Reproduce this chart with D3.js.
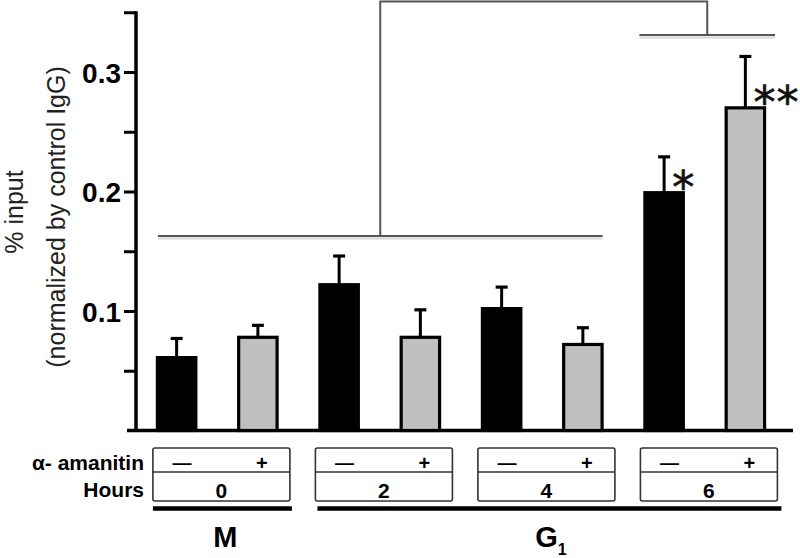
<!DOCTYPE html>
<html>
<head>
<meta charset="utf-8">
<script src="https://cdn.jsdelivr.net/npm/d3@7"></script>
<style>
  html, body { margin: 0; padding: 0; background: #fff; }
  svg { display: block; }
</style>
</head>
<body>
<div id="chart"></div>
<script>
// ---------------- DATA ----------------
const hours = ["0", "2", "4", "6"];
const amanitinLabels = ["\u2014", "+"];
const phases = ["M", "G"];
const phaseSpans = [[0, 0], [1, 3]];          // which hour groups each phase covers
const barValues = [0.061, 0.078, 0.122, 0.078, 0.102, 0.072, 0.199, 0.270];
const barErrors = [0.016, 0.010, 0.024, 0.023, 0.018, 0.014, 0.030, 0.043];
const treated   = [false, true, false, true, false, true, false, true];
const yTicks = [0.05, 0.1, 0.15, 0.2, 0.25, 0.3, 0.35];
const yLabelled = [0.1, 0.2, 0.3];
const stars = [{ bar: 6, count: 1 }, { bar: 7, count: 2 }];
const brackets = { lower: [0, 5], upper: [6, 7], lowerLevel: 0.1628, upperLevel: 0.331, topLevel: 0.359 };

// ---------------- LAYOUT ----------------
const W = 800, H = 558;
const svg = d3.select("#chart").append("svg").attr("width", W).attr("height", H)
  .style("font-family", "'Liberation Sans', Arial, sans-serif");

const x = d3.scaleBand().domain(d3.range(barValues.length)).range([136, 786])
  .paddingInner(0.49).paddingOuter(0.245);
const y = d3.scaleLinear().domain([0, 0.35]).range([430.5, 12.25]);
const bw = x.bandwidth();

// Y axis
const yAxis = d3.axisLeft(y).tickValues(yTicks).tickSize(12).tickSizeOuter(0).tickPadding(3)
  .tickFormat(d => yLabelled.some(v => Math.abs(v - d) < 1e-9) ? d3.format(".1f")(d) : "");
const ya = svg.append("g").attr("transform", "translate(136,0)").call(yAxis);
ya.select(".domain").attr("stroke", "#000").attr("stroke-width", 3.5)
  .attr("d", `M0,${y(0.35) - 1}V${y(0) + 1}`);
ya.selectAll(".tick line").attr("stroke", "#000").attr("stroke-width", 3);
ya.selectAll(".tick text").attr("fill", "#000").style("font-size", "28px").style("font-weight", "bold")
  .attr("dy", "0.36em");

// X axis baseline
svg.append("line").attr("x1", 127).attr("x2", 793).attr("y1", y(0)).attr("y2", y(0))
  .attr("stroke", "#000").attr("stroke-width", 3.5);

// Y title
const yt = svg.append("g").attr("transform", "rotate(-90)");
yt.append("text").attr("x", -212).attr("y", 23).attr("text-anchor", "middle")
  .style("font-size", "25px").attr("fill", "#222").text("% input");
yt.append("text").attr("x", -217).attr("y", 65).attr("text-anchor", "middle")
  .style("font-size", "25px").attr("fill", "#222").text("(normalized by control IgG)");

// Bars
svg.append("g").selectAll("rect").data(barValues).join("rect")
  .attr("x", (d, i) => x(i) + 1.5).attr("width", bw - 3)
  .attr("y", d => y(d)).attr("height", d => y(0) - y(d))
  .attr("fill", (d, i) => treated[i] ? "#bfbfbf" : "#000")
  .attr("stroke", "#000").attr("stroke-width", 3.2);

// Error bars (upper only)
const eb = svg.append("g").attr("stroke", "#000");
barValues.forEach((v, i) => {
  const cx = x(i) + bw / 2;
  eb.append("line").attr("x1", cx).attr("x2", cx).attr("y1", y(v)).attr("y2", y(v + barErrors[i]))
    .attr("stroke-width", 3);
  eb.append("line").attr("x1", cx - 6).attr("x2", cx + 6)
    .attr("y1", y(v + barErrors[i])).attr("y2", y(v + barErrors[i])).attr("stroke-width", 3.2);
});

// Significance stars
stars.forEach(s => {
  const v = barValues[s.bar];
  const t = svg.append("text").attr("x", x(s.bar) + bw / 2 + 8)
    .attr("y", y(v) - 13.5 + 0.54 * 44)
    .style("font-family", "'DejaVu Sans', sans-serif").style("font-size", "44px")
    .attr("fill", "#111").attr("stroke", "#111").attr("stroke-width", 0.7);
  for (let k = 0; k < s.count; k++) {
    t.append("tspan").attr("dx", k === 0 ? 0 : 1).text("*");
  }
});

// Brackets
const br = svg.append("g").attr("fill", "none");
const lx1 = x(brackets.lower[0]) + 2, lx2 = x(brackets.lower[1]) + bw - 1;
const ux1 = x(brackets.upper[0]) - 4, ux2 = x(brackets.upper[1]) + bw + 9;
const lMid = (lx1 + lx2) / 2, uMid = (ux1 + ux2) / 2;
const yl = y(brackets.lowerLevel), yu = y(brackets.upperLevel), ytp = y(brackets.topLevel);
[["#d8d8d8", 2.5], ["#555", 0]].forEach(([col, off]) => {
  br.append("line").attr("x1", lx1).attr("x2", lx2).attr("y1", yl + off).attr("y2", yl + off)
    .attr("stroke", col).attr("stroke-width", 2);
  br.append("line").attr("x1", ux1).attr("x2", ux2).attr("y1", yu + off).attr("y2", yu + off)
    .attr("stroke", col).attr("stroke-width", 2);
});
br.append("path").attr("d", `M${lMid},${yl}V${ytp}H${uMid}V${yu}`)
  .attr("stroke", "#555").attr("stroke-width", 2);

// Table of conditions
const tbl = svg.append("g");
const boxTop = 448, boxMid = 472, boxBot = 501, boxW = 137;
hours.forEach((h, g) => {
  const bx = x(2 * g) - 3;
  tbl.append("rect").attr("x", bx).attr("y", boxTop).attr("width", boxW).attr("height", boxBot - boxTop)
    .attr("rx", 2).attr("fill", "none").attr("stroke", "#333").attr("stroke-width", 1.6);
  tbl.append("line").attr("x1", bx).attr("x2", bx + boxW).attr("y1", boxMid).attr("y2", boxMid)
    .attr("stroke", "#333").attr("stroke-width", 1.6);
  tbl.append("text").attr("x", bx + 29).attr("y", 469).attr("text-anchor", "middle")
    .style("font-size", "19px").style("font-weight", "bold").text(amanitinLabels[0]);
  tbl.append("text").attr("x", bx + boxW - 28).attr("y", 469.5).attr("text-anchor", "middle")
    .style("font-size", "20px").style("font-weight", "bold").text(amanitinLabels[1]);
  tbl.append("text").attr("x", bx + boxW / 2).attr("y", 497.5).attr("text-anchor", "middle")
    .style("font-size", "21px").style("font-weight", "bold").text(h);
});
tbl.append("text").attr("x", 144).attr("y", 470).attr("text-anchor", "end")
  .style("font-size", "21px").style("font-weight", "bold").text("\u03b1- amanitin");
tbl.append("text").attr("x", 144).attr("y", 497).attr("text-anchor", "end")
  .style("font-size", "21px").style("font-weight", "bold").text("Hours");

// Phase bars and labels
phases.forEach((p, k) => {
  const [g0, g1] = phaseSpans[k];
  const px1 = x(2 * g0) - 3, px2 = x(2 * g1) - 3 + boxW + (k === 1 ? 4 : 2);
  svg.append("line").attr("x1", px1 + (k === 1 ? 2 : 0)).attr("x2", px2).attr("y1", 508.5).attr("y2", 508.5)
    .attr("stroke", "#000").attr("stroke-width", 4.5);
  const t = svg.append("text").attr("x", k === 0 ? (px1 + px2) / 2 + 3 : 551).attr("y", 547)
    .attr("text-anchor", "middle").style("font-size", "29px").style("font-weight", "bold");
  t.append("tspan").text(p);
  if (k === 1) t.append("tspan").attr("dy", 8).style("font-size", "16px").text("1");
});
</script>
</body>
</html>
